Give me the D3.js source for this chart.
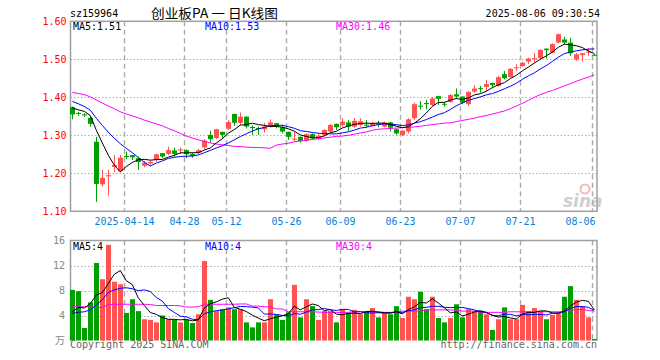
<!DOCTYPE html>
<html><head><meta charset="utf-8">
<script src="https://cdn.jsdelivr.net/npm/d3@7"></script>
<style>
body{margin:0;background:#fff}
svg{display:block}
text{font-family:"DejaVu Sans Mono","Noto Sans CJK SC",monospace;font-size:10px}
</style>
</head><body>
<svg id="c" width="660" height="360"></svg>
<script>
// ---------- data ----------
const dates=["03-31","04-01","04-02","04-03","04-07","04-08","04-09","04-10","04-11","04-14","04-15","04-16","04-17","04-18","04-21","04-22","04-23","04-24","04-25","04-28","04-29","04-30","05-06","05-07","05-08","05-09","05-12","05-13","05-14","05-15","05-16","05-19","05-20","05-21","05-22","05-23","05-26","05-27","05-28","05-29","05-30","06-03","06-04","06-05","06-06","06-09","06-10","06-11","06-12","06-13","06-16","06-17","06-18","06-19","06-20","06-23","06-24","06-25","06-26","06-27","06-30","07-01","07-02","07-03","07-04","07-07","07-08","07-09","07-10","07-11","07-14","07-15","07-16","07-17","07-18","07-21","07-22","07-23","07-24","07-25","07-28","07-29","07-30","07-31","08-01","08-04","08-05","08-06"];
const open=[1.374,1.359,1.355,1.346,1.283,1.171,1.192,1.217,1.206,1.246,
1.248,1.240,1.220,1.226,1.235,1.253,1.251,1.260,1.260,1.261,
1.251,1.254,1.268,1.301,1.293,1.309,1.317,1.356,1.333,1.349,
1.322,1.319,1.316,1.323,1.332,1.321,1.309,1.290,1.296,1.286,
1.303,1.292,1.301,1.310,1.330,1.327,1.334,1.323,1.327,1.328,
1.325,1.331,1.323,1.334,1.316,1.301,1.310,1.345,1.378,1.385,
1.380,1.403,1.383,1.388,1.408,1.402,1.382,1.415,1.424,1.427,
1.438,1.430,1.461,1.453,1.477,1.482,1.494,1.502,1.503,1.528,
1.517,1.544,1.552,1.544,1.500,1.511,1.518,1.512];
const high=[1.376,1.362,1.358,1.349,1.296,1.209,1.209,1.248,1.248,1.257,
1.248,1.244,1.233,1.234,1.252,1.253,1.270,1.267,1.268,1.263,
1.254,1.264,1.290,1.312,1.317,1.310,1.340,1.357,1.360,1.350,
1.326,1.323,1.332,1.342,1.332,1.327,1.310,1.310,1.297,1.305,
1.305,1.305,1.316,1.330,1.331,1.345,1.340,1.345,1.345,1.340,
1.336,1.338,1.336,1.335,1.318,1.314,1.345,1.386,1.390,1.393,
1.400,1.404,1.388,1.409,1.423,1.403,1.417,1.432,1.430,1.446,
1.438,1.456,1.469,1.476,1.487,1.493,1.504,1.516,1.526,1.529,
1.542,1.568,1.559,1.557,1.516,1.516,1.529,1.514];
const low=[1.342,1.351,1.348,1.323,1.125,1.165,1.141,1.203,1.203,1.237,
1.235,1.209,1.216,1.221,1.230,1.240,1.248,1.244,1.251,1.240,
1.241,1.251,1.263,1.281,1.290,1.292,1.314,1.325,1.327,1.318,
1.301,1.301,1.307,1.320,1.318,1.305,1.288,1.283,1.281,1.283,
1.290,1.288,1.298,1.307,1.314,1.323,1.310,1.320,1.323,1.321,
1.323,1.321,1.321,1.310,1.301,1.298,1.305,1.340,1.368,1.368,
1.377,1.380,1.375,1.386,1.396,1.382,1.377,1.412,1.412,1.417,
1.425,1.428,1.447,1.452,1.469,1.481,1.487,1.491,1.500,1.502,
1.516,1.542,1.540,1.509,1.496,1.494,1.509,1.508];
const close=[1.355,1.357,1.353,1.330,1.172,1.188,1.195,1.222,1.241,1.243,
1.242,1.230,1.228,1.230,1.250,1.244,1.261,1.251,1.263,1.250,
1.246,1.261,1.286,1.290,1.316,1.301,1.335,1.333,1.349,1.323,
1.319,1.317,1.323,1.334,1.323,1.310,1.296,1.291,1.285,1.303,
1.292,1.298,1.314,1.327,1.321,1.336,1.323,1.338,1.337,1.326,
1.332,1.329,1.334,1.320,1.305,1.312,1.342,1.382,1.376,1.382,
1.397,1.396,1.382,1.406,1.402,1.386,1.414,1.423,1.422,1.435,
1.432,1.453,1.450,1.475,1.479,1.491,1.502,1.503,1.525,1.524,
1.540,1.566,1.544,1.516,1.513,1.516,1.520,1.510];
const volume=[8.1,7.9,2.0,6.1,12.4,9.8,15.3,9.4,9.0,4.4,
6.6,4.7,3.4,3.3,2.9,4.0,3.4,3.3,2.9,3.3,
2.8,4.2,12.7,6.5,4.7,5.0,5.3,5.0,5.0,2.9,
2.1,2.9,2.9,6.6,4.1,3.3,4.5,8.9,3.7,6.6,
5.5,3.3,4.7,4.7,2.9,5.0,4.4,4.9,4.2,4.7,
5.2,3.7,4.4,4.2,5.5,3.6,7.0,6.6,7.8,5.0,
7.0,3.6,2.9,3.6,5.8,3.7,5.0,4.7,4.7,4.2,
1.7,3.4,5.3,3.4,3.4,5.7,4.7,5.2,4.7,3.4,
4.1,4.4,7.0,8.7,6.5,5.5,3.7,0.25];
// moving averages: first points (history before the window)
const ma5Head=[1.372,1.367,1.363,1.352];
const ma10Head=[1.389,1.383,1.376,1.366,1.345,1.326,1.308,1.292,1.278];
const ma30=[1.413,1.410,1.407,1.401,1.393,1.385,1.377,1.370,1.362,1.356,
1.351,1.346,1.340,1.335,1.330,1.325,1.318,1.312,1.305,1.298,
1.293,1.288,1.284,1.280,1.277,1.275,1.273,1.271,1.270,1.269,
1.268,1.268,1.267,1.266,1.274,1.277,1.279,1.283,1.285,1.287,
1.289,1.291,1.293,1.295,1.297,1.298,1.300,1.303,1.306,1.309,
1.313,1.316,1.317,1.318,1.319,1.320,1.321,1.322,1.324,1.326,
1.328,1.330,1.332,1.333,1.336,1.339,1.342,1.345,1.349,1.352,
1.356,1.360,1.364,1.370,1.377,1.384,1.392,1.400,1.407,1.413,
1.418,1.424,1.430,1.436,1.442,1.448,1.453,1.459];
const vma5Head=[4.6,5.3,5.2,5.9];
const vma10Head=[4.35,4.5,4.6,4.9,5.7,6.5,7.7,8.1,8.35];
const vma30=[5.4,5.4,5.4,5.35,5.25,5.3,5.7,5.8,5.8,5.8,
5.8,5.8,5.8,5.75,5.6,5.6,5.6,5.6,5.55,5.35,
5.35,5.4,5.8,5.8,5.8,5.8,5.8,5.8,5.85,5.85,
5.5,5.5,5.4,5.4,5.05,5.05,4.6,4.6,4.6,4.6,
4.6,4.55,4.5,4.5,4.5,4.5,4.5,4.6,4.6,4.6,
4.6,4.6,4.5,4.5,4.5,4.7,4.7,4.7,4.7,4.9,
4.9,4.9,4.9,4.9,4.85,4.7,4.7,4.7,4.5,4.5,
4.5,4.5,4.5,4.6,4.6,4.6,4.6,4.6,4.6,4.6,
4.6,4.6,4.6,4.9,4.9,5.0,4.8,4.7];
const priceTicks=[1.10,1.20,1.30,1.40,1.50,1.60];
const volTicks=[0,4,8,12,16];
const dateTicks=["04-14","04-28","05-12","05-26","06-09","06-23","07-07","07-21","08-06"];
const dateTickLabels=["2025-04-14","04-28","05-12","05-26","06-09","06-23","07-07","07-21","08-06"];
const priceMaLabels=["MA5:1.51","MA10:1.53","MA30:1.46"];
const volMaLabels=["MA5:4","MA10:4","MA30:4"];
const headerCode="sz159964", headerTitle="创业板PA 一 日K线图", headerTime="2025-08-06 09:30:54";

// ---------- layout ----------
const L=70.5, R=597, PT=21.3, PB=211.3, VT=240.5, VB=340.5;
const UP="#ff5252", DOWN="#00a000", MA_COL=["#000000","#0000ff","#ff00ff"];
const svg=d3.select("#c");
const x=d3.scaleBand().domain(dates).range([69.3,597.3]).padding(0);
const cx=d=>x(d)+x.bandwidth()/2;
const yP=d3.scaleLinear().domain([1.10,1.60]).range([PB,PT]);
const yV=d3.scaleLinear().domain([0,16]).range([VB,VT]);
const gx=d=>Math.round(cx(d)-2)+0.5;

function rolling(arr,n,head){return arr.map((_,i)=>i<n-1?head[i]:d3.mean(arr.slice(i-n+1,i+1)));}
const ma5=rolling(close,5,ma5Head), ma10=rolling(close,10,ma10Head);
const vma5=rolling(volume,5,vma5Head), vma10=rolling(volume,10,vma10Head);

// header
svg.append("text").attr("x",70).attr("y",17).text(headerCode);
svg.append("text").attr("x",151).attr("y",17.5).attr("textLength",127).attr("lengthAdjust","spacingAndGlyphs")
  .style("font-family",'"Noto Sans CJK SC",sans-serif').style("font-size","13px").text(headerTitle);
svg.append("text").attr("x",600).attr("y",17).attr("text-anchor","end").text(headerTime);

// ---------- grids ----------
function hgrid(vals,scale){
  svg.append("g").selectAll("line").data(vals).join("line")
   .attr("x1",L).attr("x2",R).attr("y1",d=>Math.round(scale(d))+0.5).attr("y2",d=>Math.round(scale(d))+0.5)
   .attr("stroke","#b0b0b0").attr("stroke-width",1).attr("stroke-dasharray","1.5,2");
}
hgrid([1.20,1.30,1.40,1.50],yP);
hgrid([4,8,12],yV);
function vgrid(t,b){
  svg.append("g").selectAll("line").data(dateTicks).join("line")
   .attr("x1",gx).attr("x2",gx).attr("y1",t).attr("y2",b)
   .attr("stroke","#ababab").attr("stroke-width",1.4).attr("stroke-dasharray","5,3.5");
}
vgrid(PT,PB); vgrid(VT,VB);

// frames
svg.append("rect").attr("x",L).attr("y",PT).attr("width",R-L).attr("height",PB-PT)
  .attr("fill","none").attr("stroke","#a0a0a0").attr("stroke-width",1.5);
svg.append("path").attr("d",`M${L},${VB}V${VT}H${R}V${VB}`)
  .attr("fill","none").attr("stroke","#a0a0a0").attr("stroke-width",1.5);

// ---------- axes ----------
const ay=svg.append("g").attr("transform",`translate(${L},0)`)
  .call(d3.axisLeft(yP).tickValues(priceTicks).tickFormat(d3.format(".2f")).tickSize(0).tickPadding(4));
ay.select(".domain").remove();
ay.selectAll("text").attr("fill","#ff0000").style("font-size","10px").style("font-family",'"DejaVu Sans Mono",monospace');

const av=svg.append("g").attr("transform",`translate(${L-0.5},0)`)
  .call(d3.axisLeft(yV).tickValues(volTicks).tickFormat(d=>d===0?"万":d).tickSize(0).tickPadding(5));
av.select(".domain").remove();
av.selectAll("text").attr("fill","#888").style("font-size","10px").style("font-family",'"DejaVu Sans Mono","Noto Sans CJK SC",monospace');

const ax=svg.append("g").attr("transform",`translate(-1.8,${PB})`)
  .call(d3.axisBottom(x).tickValues(dateTicks).tickFormat((d,i)=>dateTickLabels[i]).tickSize(0).tickPadding(7));
ax.select(".domain").remove();
ax.selectAll("text").attr("fill","#0a7fd6").style("font-size","10px").style("font-family",'"DejaVu Sans Mono",monospace');
ax.selectAll(".tick").filter(d=>d===dates[dates.length-1]).select("text").attr("text-anchor","end").attr("x",3);

// ---------- candles ----------
const data=dates.map((d,i)=>({d,o:open[i],h:high[i],l:low[i],c:close[i],v:volume[i]}));
const col=k=>k.c>=k.o?UP:DOWN;
const cg=svg.append("g");
cg.selectAll("line").data(data).join("line")
  .attr("x1",k=>Math.round(cx(k.d))+0.5).attr("x2",k=>Math.round(cx(k.d))+0.5)
  .attr("y1",k=>yP(k.h)).attr("y2",k=>yP(k.l)).attr("stroke",col).attr("stroke-width",1);
cg.selectAll("rect").data(data).join("rect")
  .attr("x",k=>Math.round(cx(k.d)-2.5)).attr("width",5)
  .attr("y",k=>yP(Math.max(k.o,k.c)))
  .attr("height",k=>Math.max(1,yP(Math.min(k.o,k.c))-yP(Math.max(k.o,k.c))))
  .attr("fill",col);

// volume bars
svg.append("g").selectAll("rect").data(data).join("rect")
  .attr("x",k=>Math.round(cx(k.d)-2.5)).attr("width",5)
  .attr("y",k=>yV(k.v)).attr("height",k=>yV(0)-yV(k.v)).attr("fill",col);

// ---------- MA lines ----------
function maLine(arr,scale,color){
  svg.append("path").datum(arr)
   .attr("d",d3.line().x((v,i)=>cx(dates[i])).y(v=>scale(v)))
   .attr("fill","none").attr("stroke",color).attr("stroke-width",1);
}
maLine(ma30,yP,MA_COL[2]); maLine(ma10,yP,MA_COL[1]); maLine(ma5,yP,MA_COL[0]);
maLine(vma30,yV,MA_COL[2]); maLine(vma10,yV,MA_COL[1]); maLine(vma5,yV,MA_COL[0]);

// MA labels
const lx=[73,205,336];
priceMaLabels.forEach((t,i)=>svg.append("text").attr("x",lx[i]).attr("y",30).attr("fill",MA_COL[i]).text(t));
volMaLabels.forEach((t,i)=>svg.append("text").attr("x",lx[i]).attr("y",250).attr("fill",MA_COL[i]).text(t));

// watermark
const wm=svg.append("g").attr("opacity",0.55);
wm.append("circle").attr("cx",585).attr("cy",189).attr("r",4.5).attr("fill","none").attr("stroke","#f08080").attr("stroke-width",2);
wm.append("text").attr("x",563).attr("y",207).attr("fill","#aaa")
  .style("font-family","'DejaVu Sans',sans-serif").style("font-size","17px").style("font-style","italic").style("font-weight","bold").text("sina");

// footer
svg.append("text").attr("x",70).attr("y",348).attr("fill","#666").text("Copyright 2025 SINA.COM");
svg.append("text").attr("x",597).attr("y",348).attr("fill","#666").attr("text-anchor","end").text("http://finance.sina.com.cn");
</script>
</body></html>
